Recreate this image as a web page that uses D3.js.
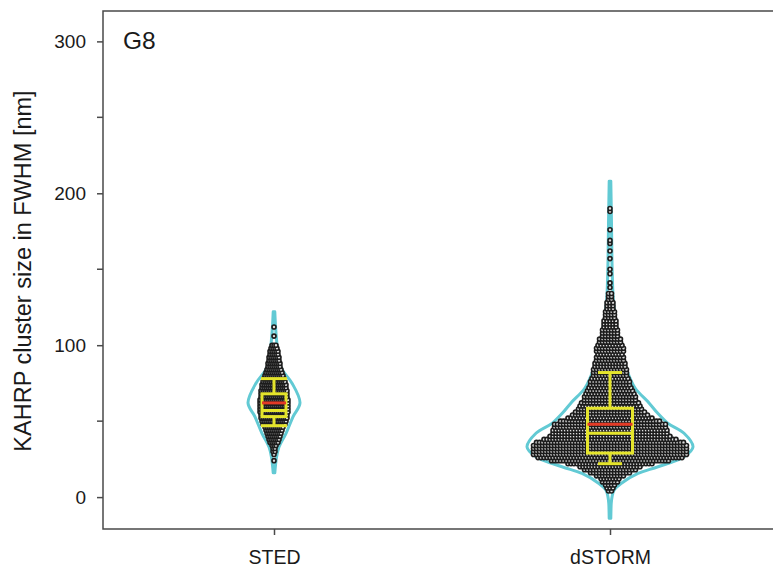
<!DOCTYPE html>
<html>
<head>
<meta charset="utf-8">
<script src="https://cdn.jsdelivr.net/npm/d3@7/dist/d3.min.js"></script>
<style>
  html, body { margin: 0; padding: 0; background: #fff; }
  svg { display: block; font-family: "Liberation Sans", Arial, sans-serif; }
</style>
</head>
<body>
<svg id="chart" width="773" height="569"></svg>
<script>
// Groups on the x axis
const groups = ["STED", "dSTORM"];

// Cluster sizes (nm) binned to 2 nm, with the number of clusters in each bin
const stedSizes  = [24, 28, 30, 32, 34, 36, 38, 40, 42, 44, 46, 48, 50, 52, 54, 56, 58, 60, 62, 64, 66, 68, 70, 72, 74, 76, 78, 80, 82, 84, 86, 88, 90, 92, 94, 96, 98, 100, 106, 112];
const stedCounts = [ 1,  1,  2,  2,  3,  5,  6,  7,  8,  9, 10, 12, 13, 14, 14, 15, 15, 15, 15, 15, 14, 14, 14, 13, 13, 12, 11, 10,  9,  8,  7,  7,  6,  6,  5,  5,  4,   3,   1,   1];

const dstormSizes  = [4, 6, 8, 10, 12, 14, 16, 18, 20, 22, 24, 26, 28, 30, 32, 34, 36, 38, 40, 42, 44, 46, 48, 50, 52, 54, 56, 58, 60, 62, 64, 66, 68, 70, 72, 74, 76, 78, 80, 82, 84, 86, 88, 90, 92, 94, 96, 98, 100, 102, 104, 106, 108, 110, 112, 114, 116, 118, 120, 122, 124, 126, 128, 130, 132, 134, 138, 141, 147, 150, 157, 162, 167, 169, 176, 188, 190];
const dstormCounts = [2, 3, 4,  6,  7, 10, 14, 18, 21, 29, 40, 49, 52, 52, 52, 52, 50, 45, 41, 39, 39, 38, 38, 34, 29, 26, 24, 22, 21, 20, 18, 18, 17, 16, 15, 14, 14, 13, 12, 12, 12, 11, 11, 10, 10,  9, 10, 10,   9,   8,   8,   6,   6,   6,   5,   5,   5,   4,   4,   4,   3,   3,   3,   2,   2,   2,   1,   1,   1,   1,   1,   1,   1,   1,   1,   1,   1];

// Kernel density outlines (relative density at the listed sizes)
const stedViolinAt      = [16, 26, 33, 42, 53, 62, 75, 84, 90, 108, 122];
const stedViolinDensity = [0, 0.03, 0.06, 0.145, 0.23, 0.313, 0.217, 0.096, 0.06, 0.024, 0];

const dstormViolinAt      = [-14, -8, -4, 0, 4.6, 9, 15.6, 20, 26.5, 33, 42, 48.5, 55, 62, 72, 84, 97, 116, 130, 150, 180, 208];
const dstormViolinDensity = [0, 0.012, 0.015, 0.024, 0.048, 0.133, 0.337, 0.578, 0.892, 1.0, 0.892, 0.699, 0.578, 0.47, 0.3, 0.2, 0.13, 0.07, 0.04, 0.026, 0.018, 0];

// Box statistics per group: whiskers, quartiles, median and mean (nm)
const whiskerLow  = [47, 22];
const quartile1   = [53, 29];
const medians     = [57, 42];
const quartile3   = [68, 58.5];
const whiskerHigh = [78, 82];
const means       = [62, 48];

// Axis ticks
const yTicks = [0, 100, 200, 300];
const yMinorTicks = [50, 150, 250];

const svg = d3.select("#chart");
const plotLeft = 103, plotTop = 11, plotRight = 773, plotBottom = 529;

const x = d3.scalePoint().domain(groups).range([274, 610]);
const y = d3.scaleLinear().domain([-21, 320]).range([plotBottom, plotTop]);
const w = d3.scaleLinear().domain([0, 1]).range([0, 83]);

const cyan = "#62CAD4", yellow = "#E4E42C", red = "#E43A26", ink = "#1a1a1a";

// Frame: left, top and bottom edges
svg.append("path")
  .attr("d", `M${plotRight},${plotTop}H${plotLeft}V${plotBottom}H${plotRight}`)
  .attr("stroke", "#4a4a4a").attr("stroke-width", 1.5).attr("fill", "none");

// Violin outlines
function violin(name, at, dens) {
  const cx = x(name);
  const pts = at.map((v, i) => [v, dens[i]]);
  const area = d3.area()
    .y(d => y(d[0]))
    .x0(d => cx - Math.max(w(d[1]), 0.8))
    .x1(d => cx + Math.max(w(d[1]), 0.8))
    .curve(d3.curveCatmullRom.alpha(0.5));
  svg.append("path")
    .attr("d", area(pts))
    .attr("fill", "none")
    .attr("stroke", cyan)
    .attr("stroke-width", 3)
    .attr("stroke-linejoin", "round");
}
violin("STED", stedViolinAt, stedViolinDensity);
violin("dSTORM", dstormViolinAt, dstormViolinDensity);

// Dot-density rows: every cluster is an open circle, spread sideways within its bin
function dots(name, sizes, counts, spacing) {
  const cx = x(name);
  const pts = [];
  sizes.forEach((s, i) => {
    const n = counts[i];
    for (let k = 0; k < n; k++) {
      pts.push([cx + (k - (n - 1) / 2) * spacing, y(s)]);
    }
  });
  svg.append("g").selectAll("circle").data(pts).join("circle")
    .attr("cx", d => d[0]).attr("cy", d => d[1]).attr("r", 2)
    .attr("fill", "#dcdcdc").attr("stroke", "#1c1c1c").attr("stroke-width", 1.6);
}
dots("STED", stedSizes, stedCounts, 2);
dots("dSTORM", dstormSizes, dstormCounts, 3);

// Box plots
const boxHalf = [12, 22.5], capHalf = [13, 12];
groups.forEach((g, i) => {
  const cx = x(g);
  const b = svg.append("g").attr("fill", "none").attr("stroke-width", 3);
  b.append("line").attr("x1", cx).attr("x2", cx).attr("y1", y(whiskerHigh[i])).attr("y2", y(quartile3[i])).attr("stroke", yellow);
  b.append("line").attr("x1", cx).attr("x2", cx).attr("y1", y(quartile1[i])).attr("y2", y(whiskerLow[i])).attr("stroke", yellow);
  b.append("line").attr("x1", cx - capHalf[i]).attr("x2", cx + capHalf[i]).attr("y1", y(whiskerHigh[i])).attr("y2", y(whiskerHigh[i])).attr("stroke", yellow);
  b.append("line").attr("x1", cx - capHalf[i]).attr("x2", cx + capHalf[i]).attr("y1", y(whiskerLow[i])).attr("y2", y(whiskerLow[i])).attr("stroke", yellow);
  b.append("rect").attr("x", cx - boxHalf[i]).attr("width", 2 * boxHalf[i])
    .attr("y", y(quartile3[i])).attr("height", y(quartile1[i]) - y(quartile3[i])).attr("stroke", yellow);
  b.append("line").attr("x1", cx - boxHalf[i]).attr("x2", cx + boxHalf[i]).attr("y1", y(medians[i])).attr("y2", y(medians[i])).attr("stroke", yellow);
  b.append("line").attr("x1", cx - boxHalf[i]).attr("x2", cx + boxHalf[i]).attr("y1", y(means[i])).attr("y2", y(means[i])).attr("stroke", red);
});

// Y axis ticks and labels
const yAxis = svg.append("g").attr("transform", `translate(${plotLeft},0)`)
  .call(d3.axisLeft(y).tickValues(yTicks).tickSize(6).tickPadding(11).tickFormat(d3.format("d")));
yAxis.select(".domain").remove();
yAxis.selectAll(".tick line").attr("stroke", "#4a4a4a").attr("stroke-width", 1.5);
yAxis.selectAll(".tick text").attr("font-size", 19).attr("fill", ink).attr("font-family", "Liberation Sans, Arial, sans-serif");
svg.append("g").selectAll("line").data(yMinorTicks).join("line")
  .attr("x1", plotLeft - 6).attr("x2", plotLeft).attr("y1", d => y(d)).attr("y2", d => y(d))
  .attr("stroke", "#4a4a4a").attr("stroke-width", 1.5);

// X axis ticks and labels
const xAxis = svg.append("g").attr("transform", `translate(0,${plotBottom})`)
  .call(d3.axisBottom(x).tickSize(6).tickPadding(15));
xAxis.select(".domain").remove();
xAxis.selectAll(".tick line").attr("stroke", "#4a4a4a").attr("stroke-width", 1.5);
xAxis.selectAll(".tick text").attr("font-size", 19.5).attr("fill", ink).attr("font-family", "Liberation Sans, Arial, sans-serif");

// Axis title and panel label
svg.append("text")
  .attr("transform", `translate(31,${(plotTop + plotBottom) / 2 + 1}) rotate(-90)`)
  .attr("text-anchor", "middle")
  .attr("font-size", 23.5).attr("fill", ink)
  .text("KAHRP cluster size in FWHM [nm]");

svg.append("text")
  .attr("x", 123).attr("y", 49)
  .attr("font-size", 24.5).attr("fill", ink)
  .text("G8");
</script>
</body>
</html>
